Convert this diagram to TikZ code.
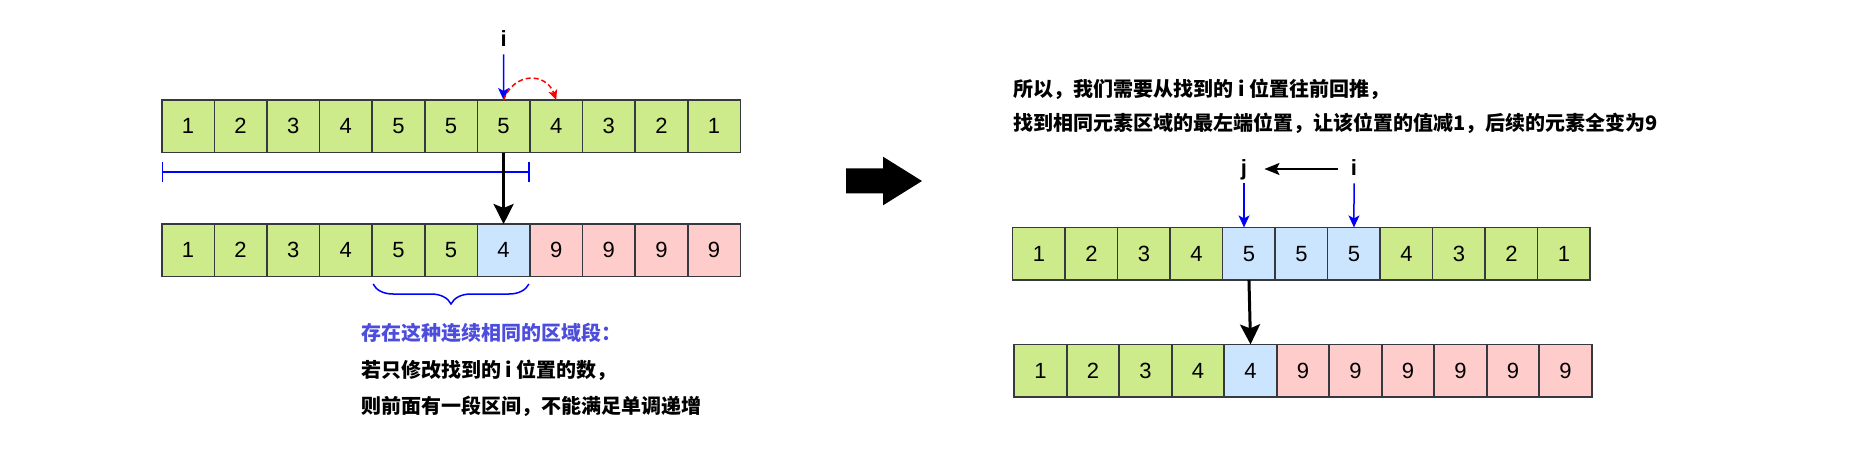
\documentclass[tikz,border=0pt]{standalone}
\usepackage{fontspec}
\setmainfont{Liberation Sans}
\newfontfamily\cjk{Noto Sans CJK SC}
\usetikzlibrary{arrows.meta,decorations.pathreplacing,positioning}
\definecolor{cellgreen}{HTML}{CDEB8B}
\definecolor{cellblue}{HTML}{CCE5FF}
\definecolor{cellred}{HTML}{FFCCCC}
\definecolor{cellline}{HTML}{36393D}
\definecolor{notecolor}{HTML}{4D4DDD}
\tikzset{
    cell/.style={draw=cellline,line width=0.8pt,minimum size=26.3pt,inner sep=0pt,outer sep=0pt,font=\fontsize{11}{13}\selectfont},
    ptr/.style={anchor=base,font=\bfseries\fontsize{11}{13}\selectfont,text height=8pt,text depth=2pt,inner sep=2pt},
    ptrarrow/.style={blue,line width=0.75pt,-{Stealth[length=6pt,width=5.5pt,inset=1.5pt]}},
    movearrow/.style={line width=1.5pt,-{Stealth[length=10pt,width=10pt,inset=2pt]}},
    note/.style={anchor=west,inner sep=0pt,font=\cjk\bfseries\fontsize{10}{12}\selectfont}
}

\begin{document}
\begin{tikzpicture}[x=0.5pt,y=-0.5pt]
        \useasboundingbox (0,0) rectangle (1850,466);
        \foreach \v/\c [count=\k] in {1/cellgreen,2/cellgreen,3/cellgreen,4/cellgreen,5/cellgreen,5/cellgreen,5/cellgreen,4/cellgreen,3/cellgreen,2/cellgreen,1/cellgreen}
            \node[cell,fill=\c] (a\k) at ({161.7+(\k-0.5)*52.6},126.3) {\v};
        \foreach \v/\c [count=\k] in {1/cellgreen,2/cellgreen,3/cellgreen,4/cellgreen,5/cellgreen,5/cellgreen,4/cellblue,9/cellred,9/cellred,9/cellred,9/cellred}
            \node[cell,fill=\c] (b\k) at ({161.7+(\k-0.5)*52.6},250.3) {\v};
        \node[ptr] (il) at (503.6,46) {i};
        \draw[ptrarrow] (il.south) -- (a7.north);
        \draw[red,line width=0.75pt,dash pattern=on 2.5pt off 1.5pt,-{Stealth[length=5pt,width=4.5pt,inset=1.2pt]}]
            (a7.north) .. controls ([xshift=5pt,yshift=14pt]a7.north) and ([xshift=-5pt,yshift=14pt]a8.north) .. (a8.north);
        \coordinate (spany) at (0,171.7);
        \draw[blue,line width=0.8pt,{Bar[width=10pt]}-{Bar[width=10pt]}] (a1.west |- spany) -- (a7.east |- spany);
        \draw[movearrow] (a7.south) -- (b7.north);
        \draw[blue,line width=0.75pt,decorate,decoration={brace,amplitude=10pt}]
            ([xshift=-0.5pt,yshift=-3.7pt]b7.south east) -- ([xshift=0.5pt,yshift=-3.7pt]b5.south west);
        \node[note,text=notecolor] (t1) at (360.7,333.3) {存在这种连续相同的区域段：};
        \node[note] (t2) at (360.7,370.7) {若只修改找到的 i 位置的数，};
        \node[note] (t3) at (360.7,406) {则前面有一段区间，不能满足单调递增};

        \fill (846,168.3) -- (883,168.3) -- (883,156.7) -- (922,181) -- (883,205.3) -- (883,193.3) -- (846,193.3) -- cycle;

        \node[note] (u1) at (1013.3,89.3) {所以，我们需要从找到的 i 位置往前回推，};
        \node[note] (u2) at (1013.3,123.3) {找到相同元素区域的最左端位置，让该位置的值减1，后续的元素全变为9};
        \foreach \v/\c [count=\k] in {1/cellgreen,2/cellgreen,3/cellgreen,4/cellgreen,5/cellblue,5/cellblue,5/cellblue,4/cellgreen,3/cellgreen,2/cellgreen,1/cellgreen}
            \node[cell,fill=\c] (c\k) at ({1012.7+(\k-0.5)*52.5},253.7) {\v};
        \foreach \v/\c [count=\k] in {1/cellgreen,2/cellgreen,3/cellgreen,4/cellgreen,4/cellblue,9/cellred,9/cellred,9/cellred,9/cellred,9/cellred,9/cellred}
            \node[cell,fill=\c] (d\k) at ({1014.3+(\k-0.5)*52.5},370.7) {\v};
        \node[ptr] (jr) at (1244,175) {j};
        \node[ptr] (ir) at (1354,175) {i};
        \draw[line width=0.75pt,-{Stealth[length=7.5pt,width=6pt,inset=1.5pt]},shorten <=4.5pt,shorten >=6.5pt] (ir.west) -- (jr.east);
        \draw[ptrarrow] (jr.south) -- (jr.south |- c5.north);
        \draw[ptrarrow] (ir.south) -- (c7.north);
        \draw[movearrow] (c5.south) -- (d5.north);
\end{tikzpicture}
\end{document}
